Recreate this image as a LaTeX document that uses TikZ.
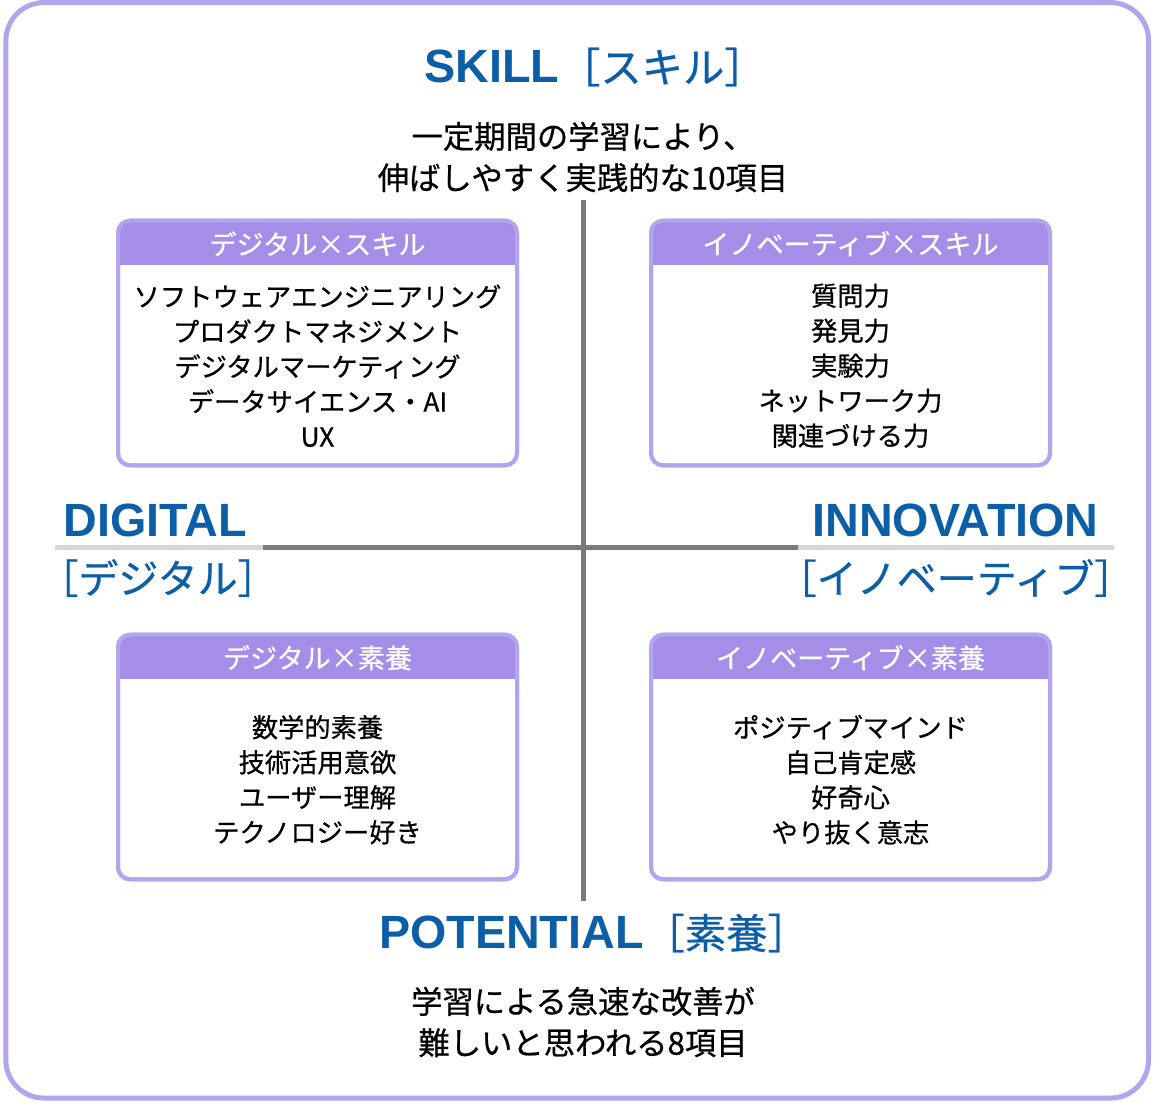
\documentclass[tikz,border=0pt]{standalone}
\usepackage{fontspec}
\setmainfont{Noto Sans CJK JP}[FakeBold=0.6]
\newfontfamily\latinbold{Liberation Sans}
\usepackage{tikz}
\usetikzlibrary{calc}
\definecolor{titleblue}{RGB}{12,94,166}
\definecolor{framelilac}{RGB}{180,164,238}
\definecolor{headlilac}{RGB}{165,142,232}
\definecolor{axisgray}{RGB}{122,122,122}
\definecolor{axislight}{RGB}{214,214,214}
\newcommand\axisword[1]{{\latinbold\bfseries\fontsize{35pt}{40pt}\selectfont #1}}

\begin{document}
\begin{tikzpicture}[
			x=0.75pt, y=-0.75pt,
			panel/.style={draw=framelilac, line width=3.75pt, rounded corners=28.5pt, minimum width=857pt, minimum height=821.6pt, inner sep=0pt},
			quad/.style={draw=framelilac, line width=3pt, fill=white, rounded corners=9pt, minimum width=299.25pt, minimum height=183.4pt, inner sep=0pt, outer sep=0pt},
			head/.style={text=white, font=\fontsize{20.3pt}{24pt}\selectfont},
			items/.style={align=center, font=\fontsize{19.7pt}{26.25pt}\selectfont},
			axis/.style={line width=3.5pt, draw=axisgray},
			faint/.style={line width=3.5pt, draw=axislight},
			heading/.style={text=titleblue, font=\fontsize{31pt}{34pt}\selectfont},
			sideheading/.style={text=titleblue, font=\fontsize{30pt}{34pt}\selectfont},
			desc/.style={align=center, font=\fontsize{23.5pt}{31pt}\selectfont}
		]

		\useasboundingbox (0,0) rectangle (1153,1103);
		\node[panel] (panel) at (577.2,550.3) {};

		% axes
		\coordinate (top) at (583.5,200);
		\coordinate (bottom) at (583.5,901);
		\coordinate (west) at (55,547.5);
		\coordinate (westin) at (263,547.5);
		\coordinate (eastin) at (798,547.5);
		\coordinate (east) at (1114,547.5);
		\draw[faint] (west) -- (westin);
		\draw[faint] (eastin) -- (east);
		\draw[axis] (westin) -- (eastin);
		\draw[axis] (top) -- (bottom);

		\node[heading] (skill) at (595,67) {\axisword{SKILL}［スキル］};
		\node[desc] (skilldesc) at (583,157) {一定期間の学習により、\\伸ばしやすく実践的な10項目};
		\node[heading] (potential) at (594,933) {\axisword{POTENTIAL}［素養］};
		\node[desc] (potentialdesc) at (583,1022) {学習による急速な改善が\\難しいと思われる8項目};

		\node[sideheading] (digital) at (155,520) {\axisword{DIGITAL}};
		\node[sideheading] (digitaljp) at (158,578) {［デジタル］};
		\node[sideheading] (innovation) at (955.5,520) {\axisword{INNOVATION}};
		\node[sideheading] (innovationjp) at (955.5,578) {［イノベーティブ］};

		% quadrant boxes
		\foreach \n/\cx/\cy/\hd/\body in {
			dsk/317.5/343/デジタル×スキル/{ソフトウェアエンジニアリング\\プロダクトマネジメント\\デジタルマーケティング\\データサイエンス・AI\\UX},
			isk/850.5/343/イノベーティブ×スキル/{質問力\\発見力\\実験力\\ネットワーク力\\関連づける力},
			dpo/317.5/757/デジタル×素養/{数学的素養\\技術活用意欲\\ユーザー理解\\テクノロジー好き},
			ipo/850.5/757/イノベーティブ×素養/{ポジティブマインド\\自己肯定感\\好奇心\\やり抜く意志}}
		{
			\node[quad] (\n) at (\cx,\cy) {};
			\begin{scope}
				\clip[rounded corners=9pt] (\n.north west) rectangle (\n.south east);
				\fill[headlilac] (\n.north west) rectangle ($(\n.north east)+(0,44)$);
			\end{scope}
			\draw[framelilac, line width=3pt, rounded corners=9pt] (\n.north west) rectangle (\n.south east);
			\node[head] (\n-head) at ($(\n.north)+(0,23)$) {\hd};
			\node[items] (\n-items) at ($(\n.north)+(0,145)$) {\body};
		}

	\end{tikzpicture}
\end{document}
